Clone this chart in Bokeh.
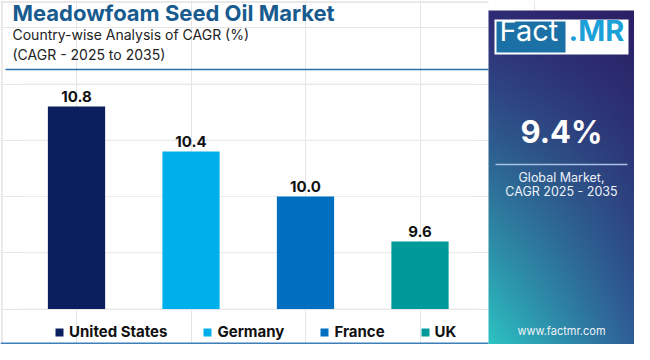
import numpy as np
from bokeh.plotting import figure
from bokeh.models import Range1d, Label, ColumnDataSource
from bokeh.embed import file_html
from bokeh.resources import INLINE
from bokeh.core.properties import value

# ---------------- data ----------------
countries = ["United States", "Germany", "France", "UK"]
cagr = [10.8, 10.4, 10.0, 9.6]
bar_colors = ["#0b1f5e", "#00b0ec", "#006fc0", "#009a9a"]
grid_ticks = [9.0, 9.5, 10.0, 10.5, 11.0]
title_text = "Meadowfoam Seed Oil Market"
subtitle_1 = "Country-wise Analysis of CAGR (%)"
subtitle_2 = "(CAGR - 2025 to 2035)"
global_cagr = "9.4%"
global_lines = ["Global Market,", "CAGR 2025 - 2035"]
site = "www.factmr.com"

FONT = "Inter"
W, H = 634, 344
X0, DX = 76.0, 114.5               # pixel x of first category centre, spacing
V0, PY0, PPV = 10.0, 196.0, 112.5  # value, its pixel y, pixels per unit

p = figure(width=W, height=H,
           x_range=Range1d((0 - X0) / DX, (W - X0) / DX),
           y_range=Range1d(V0 - (H - PY0) / PPV, V0 + PY0 / PPV),
           output_backend="svg", toolbar_location=None,
           x_axis_location=None, y_axis_location=None,
           min_border=0, outline_line_color=None,
           background_fill_color="white", border_fill_color="white")
p.extra_x_ranges = {"px": Range1d(0, W)}
p.extra_y_ranges = {"py": Range1d(-H, 0)}
P = dict(x_range_name="px", y_range_name="py")

# outer light border
p.segment(x0=[1.5, 0], y0=[0, -1.5], x1=[1.5, 488], y1=[-H, -1.5],
          line_color="#e2e2e2", line_width=1.5, **P)

# gridlines
p.segment(x0=20, x1=476, y0=grid_ticks, y1=grid_ticks, x_range_name="px",
          line_color="#ececec", line_width=1)

# bars
src = ColumnDataSource(dict(x=list(range(len(countries))), country=countries, value=cagr,
                            color=bar_colors, label=[f"{v:.1f}" for v in cagr]))
p.vbar(x="x", top="value", bottom=grid_ticks[0], width=0.5, fill_color="color",
       line_color=None, source=src, legend_field="country")
p.text(x="x", y="value", text="label", y_offset=-10, text_align="center",
       text_baseline="alphabetic", text_font=value(FONT), text_font_style="bold",
       text_font_size="15px", text_color="#111111", source=src)

leg = p.legend[0]
leg.orientation = "horizontal"
leg.location = (54, 3)
leg.padding = 0
leg.margin = 0
leg.spacing = 35
leg.glyph_width = 10
leg.glyph_height = 10
leg.label_standoff = 5
leg.label_height = 18
leg.border_line_color = None
leg.background_fill_alpha = 0
leg.label_text_font = FONT
leg.label_text_font_style = "bold"
leg.label_text_font_size = "15px"
leg.label_text_color = "#111111"

# title block
p.add_layout(Label(x=12, y=-25, text=title_text, text_font=FONT, text_font_style="bold",
                   text_font_size="22px", text_color="#185b8f", **P))
p.add_layout(Label(x=12, y=-42, text=subtitle_1, text_font=FONT,
                   text_font_size="14px", text_color="#222222", **P))
p.add_layout(Label(x=12, y=-62, text=subtitle_2, text_font=FONT,
                   text_font_size="14px", text_color="#222222", **P))
p.segment(x0=5, x1=488, y0=-69, y1=-69, line_color="#2f6fa5", line_width=1.5, **P)
p.segment(x0=0, x1=488, y0=-343, y1=-343, line_color="#3d7fb8", line_width=2, **P)

# right panel gradient
ny, nx = 170, 76
v = np.linspace(1, 0, ny)[:, None]   # 0 top, 1 bottom (row 0 = bottom)
u = np.linspace(0, 1, nx)[None, :]
def hx(c):
    return np.array([int(c[i:i + 2], 16) for i in (1, 3, 5)], dtype=float)
TL, TR, BL, BR = hx("#2f2c76"), hx("#2b2066"), hx("#2cc3c3"), hx("#2f5e97")
vv = v ** 1.2
rgb = ((1 - u)[..., None] * ((1 - vv)[..., None] * TL + vv[..., None] * BL)
       + u[..., None] * ((1 - vv)[..., None] * TR + vv[..., None] * BR))
img = np.zeros((ny, nx), dtype=np.uint32)
view = img.view(dtype=np.uint8).reshape((ny, nx, 4))
view[..., 0] = rgb[..., 0].astype(np.uint8)
view[..., 1] = rgb[..., 1].astype(np.uint8)
view[..., 2] = rgb[..., 2].astype(np.uint8)
view[..., 3] = 255
PL, PR, PT, PB = 488, 634, 10, 344
p.image_rgba(image=[img], x=PL, y=-PB, dw=PR - PL, dh=PB - PT, **P)
CX = (PL + PR) / 2

# logo
p.quad(left=494, right=628, top=-19, bottom=-54, fill_color="white", line_color=None, **P)
p.quad(left=496, right=565, top=-21, bottom=-52, fill_color="#1b70a6", line_color=None, **P)
p.add_layout(Label(x=499, y=-47, text="Fact", text_font=FONT, text_font_size="29px",
                   text_color="white", **P))
p.add_layout(Label(x=568, y=-47, text=".MR", text_font=FONT, text_font_style="bold",
                   text_font_size="29px", text_color="#1ba0d8", **P))

p.add_layout(Label(x=CX, y=-149, text=global_cagr, text_font=FONT, text_font_style="bold",
                   text_font_size="31px", text_color="white", text_align="center", **P))
p.segment(x0=495, x1=627, y0=-164, y1=-164, line_color="#a9c1e3", line_width=1.5, **P)
for txt, yb in zip(global_lines, [-184, -198]):
    p.add_layout(Label(x=CX, y=yb, text=txt, text_font=FONT, text_font_size="12.5px",
                       text_color="#eef2f8", text_align="center", **P))
p.add_layout(Label(x=CX, y=-337, text=site, text_font=FONT, text_font_size="11px",
                   text_color="#eef2f8", text_align="center", **P))

open("out.html", "w").write(file_html(p, INLINE))
